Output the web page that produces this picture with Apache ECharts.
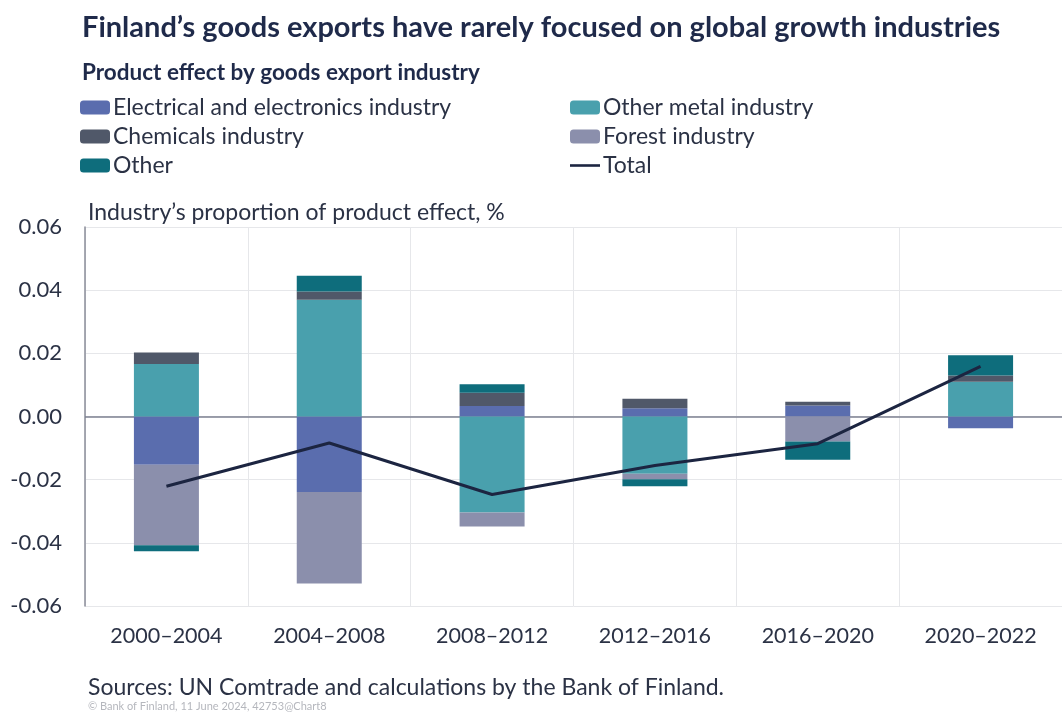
<!DOCTYPE html>
<html><head><meta charset="utf-8">
<script src="https://cdn.jsdelivr.net/npm/echarts@6/dist/echarts.min.js"></script>
<style>html,body{margin:0;padding:0;background:#fff}#c{width:1062px;height:715px}</style>
</head><body><div id="c"></div>
<script>
const categories = ['2000–2004','2004–2008','2008–2012','2012–2016','2016–2020','2020–2022'];
const electrical = [-0.0153, -0.0239, 0.0033, 0.0026, 0.0035, -0.0037];
const otherMetal = [0.0166, 0.0370, -0.0304, -0.0181, 0, 0.0110];
const chemicals  = [0.0037, 0.0026, 0.0042, 0.0030, 0.0012, 0.0020];
const forest     = [-0.0255, -0.0290, -0.0044, -0.0018, -0.0079, 0];
const other      = [-0.0019, 0.0050, 0.0027, -0.0022, -0.0058, 0.0064];
const total      = [-0.0221, -0.0084, -0.0247, -0.0155, -0.0086, 0.0159];
const yTicks = [-0.06, -0.04, -0.02, 0, 0.02, 0.04, 0.06];

const FONT = 'Lato';
const TXT = '#2b3245';
const chart = echarts.init(document.getElementById('c'));
function bar(name, data, color) {
  return { name, type: 'bar', stack: 's', data, barWidth: 65, itemStyle: { color }, emphasis: { disabled: true } };
}
const series = [
  bar('Electrical and electronics industry', electrical, '#5a6dae'),
  bar('Other metal industry', otherMetal, '#49a0ad'),
  bar('Chemicals industry', chemicals, '#505869'),
  bar('Forest industry', forest, '#8b8fac'),
  bar('Other', other, '#0e6d7c'),
  { name: 'Total', type: 'line', data: total, symbol: 'none', lineStyle: { color: '#1c2541', width: 3 }, itemStyle: { color: '#1c2541' }, z: 5,
    markLine: { silent: true, symbol: 'none', label: { show: false }, lineStyle: { color: '#7d8190', width: 1.5, type: 'solid' }, data: [{ yAxis: 0 }], z: 1 } }
];
const legendCommon = {
  orient: 'vertical', itemWidth: 30, itemHeight: 14, itemGap: 6, padding: 0,
  textStyle: { fontFamily: FONT, fontSize: 23, color: TXT, padding: [0, 0, 0, -2] },
  selectedMode: false
};
chart.setOption({
  animation: false,
  textStyle: { fontFamily: FONT },
  title: [
    { text: 'Finland’s goods exports have rarely focused on global growth industries', left: 77, top: 8,
      textStyle: { fontFamily: FONT, fontWeight: 'bold', fontSize: 29, color: '#1f2a4a' } },
    { text: 'Product effect by goods export industry', left: 77, top: 56,
      textStyle: { fontFamily: FONT, fontWeight: 'bold', fontSize: 22.5, color: '#1f2a4a' } }
  ],
  legend: [
    Object.assign({ left: 80, top: 96, data: ['Electrical and electronics industry', 'Chemicals industry', 'Other'] }, legendCommon),
    Object.assign({ left: 570, top: 96, data: ['Other metal industry', 'Forest industry', { name: 'Total', icon: 'path://M0,0H30V2.6H0Z' }] }, legendCommon)
  ],
  grid: { left: 85, right: 0, top: 227, bottom: 109, containLabel: false },
  xAxis: {
    type: 'category', data: categories,
    axisLine: { show: false }, axisTick: { show: false },
    axisLabel: { fontFamily: FONT, fontSize: 21.5, color: TXT, margin: 19 },
    splitLine: { show: true, lineStyle: { color: '#e6e7ea', width: 1 } }
  },
  yAxis: {
    type: 'value', min: -0.06, max: 0.06, interval: 0.02,
    axisLine: { show: true, lineStyle: { color: '#8a8d99', width: 1.5 } },
    axisTick: { show: false },
    axisLabel: { fontFamily: FONT, fontSize: 22, color: TXT, margin: 23, formatter: v => v.toFixed(2) },
    splitLine: { show: true, lineStyle: { color: '#e6e7ea', width: 1 } }
  },
  graphic: [
    { type: 'text', left: 88, top: 201, style: { text: 'Industry’s proportion of product effect, %', font: '23px ' + FONT, fill: TXT } },
    { type: 'text', left: 88, top: 676, style: { text: 'Sources: UN Comtrade and calculations by the Bank of Finland.', font: '23px ' + FONT, fill: TXT } },
    { type: 'text', left: 88, top: 701, style: { text: '© Bank of Finland, 11 June 2024, 42753@Chart8', font: '11px ' + FONT, fill: '#b5b7bd' } }
  ],
  series
});
</script></body></html>
